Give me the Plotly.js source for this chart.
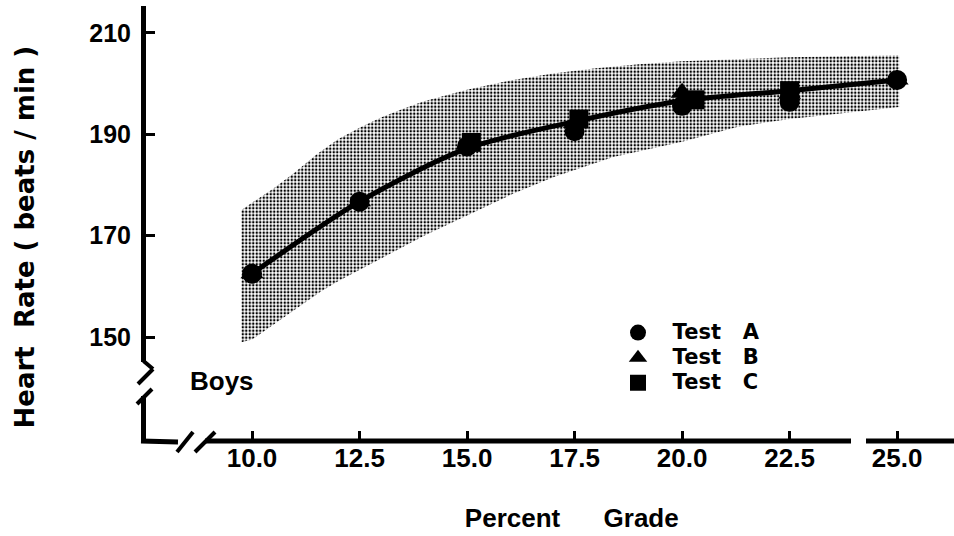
<!DOCTYPE html>
<html>
<head>
<meta charset="utf-8">
<script src="https://cdn.plot.ly/plotly-3.0.1.min.js"></script>
<style>html,body{margin:0;padding:0;background:#fff;}#chart{width:954px;height:536px;}</style>
</head>
<body>
<div id="chart"></div>
<script>
// ---- data ----
const grades = [10, 12.5, 15, 17.5, 20, 22.5, 25];
const meanHR = [162.5, 176.7, 187.2, 192.5, 196.6, 198.6, 200.7];

const testA_x = [10, 12.5, 15, 17.5, 20, 22.5, 25];
const testA_y = [162.5, 176.7, 187.6, 190.6, 195.6, 196.4, 200.7];
const testB_x = [10, 12.5, 15, 17.5, 20, 22.5, 25];
const testB_y = [162.6, 176.8, 188.0, 192.2, 198.2, 198.0, 200.8];
const testC_x = [15.1, 17.6, 20.3, 22.5];
const testC_y = [188.4, 193.0, 196.8, 198.6];

const bandUpperX = [9.75, 10, 10.5, 11, 11.5, 12, 12.5, 13, 13.5, 14, 15, 16, 17, 18, 19, 20, 22.5, 25.05];
const bandUpperY = [175, 176.5, 179.3, 182.5, 186, 189, 191.3, 193.3, 195, 196.5, 198.8, 200.6, 202, 203, 203.8, 204.4, 205.2, 205.6];
const bandLowerX = [9.75, 10, 11, 11.6, 12, 13, 14, 15, 16, 17, 18.4, 20, 21.3, 22.5, 25.05];
const bandLowerY = [149, 149.5, 155.5, 159, 161, 165.5, 170, 174, 178, 181.5, 185.5, 188.5, 191.5, 193, 195.4];

const xTickVals = [10, 12.5, 15, 17.5, 20, 22.5, 25];
const xTickText = ['10.0', '12.5', '15.0', '17.5', '20.0', '22.5', '25.0'];
const yTickVals = [150, 170, 190, 210];
const yTickText = ['150', '170', '190', '210'];

// ---- layout geometry (pixels) ----
const W = 954, H = 536;
const M = {l: 143, r: 4, t: 7, b: 96};
const PW = W - M.l - M.r, PH = H - M.t - M.b;
const px = x => (x - M.l) / PW;
const py = y => 1 - (y - M.t) / PH;
const WIDE = 'DejaVu Sans, Liberation Sans, Arial, sans-serif';
const NARROW = 'Liberation Sans, Arial, sans-serif';
const sp = n => '\u00a0'.repeat(n);
const big = s => '<span style="font-size:21px">' + s + '</span>';

const bandX = bandUpperX.concat(bandLowerX.slice().reverse());
const bandY = bandUpperY.concat(bandLowerY.slice().reverse());

const traces = [
  {x: bandX, y: bandY, type: 'scatter', mode: 'lines', fill: 'toself',
   line: {width: 0, color: 'rgba(0,0,0,0)'},
   fillcolor: 'rgba(0,0,0,0)',
   fillpattern: {shape: '.', fgcolor: '#000', bgcolor: '#fff', size: 3.5, solidity: 0.4},
   showlegend: false, hoverinfo: 'skip'},
  {x: grades, y: meanHR, type: 'scatter', mode: 'lines',
   line: {color: '#000', width: 5, shape: 'spline', smoothing: 0.8},
   showlegend: false},
  {x: testA_x, y: testA_y, type: 'scatter', mode: 'markers', name: big(sp(2) + 'Test' + sp(3) + 'A'),
   marker: {symbol: 'circle', size: 20, color: '#000'}},
  {x: testB_x, y: testB_y, type: 'scatter', mode: 'markers', name: big(sp(2) + 'Test' + sp(3) + 'B'),
   marker: {symbol: 'triangle-up', size: 20, color: '#000'}},
  {x: testC_x, y: testC_y, type: 'scatter', mode: 'markers', name: big(sp(2) + 'Test' + sp(3) + 'C'),
   marker: {symbol: 'square', size: 19, color: '#000'}}
];

const L = (x0, y0, x1, y1, w) => ({type: 'line', xref: 'paper', yref: 'paper',
  x0: px(x0), y0: py(y0), x1: px(x1), y1: py(y1), line: {color: '#000', width: w || 5}});

const shapes = [
  // y axis with break
  L(143.5, 6, 143.5, 362),
  L(143.5, 361, 153, 369, 4),
  L(153, 369, 138, 384, 4),
  L(152, 389, 137, 404, 4),
  L(143.5, 396, 143.5, 441),
  // x axis with break
  L(141, 441, 178, 442),
  L(177, 452, 193, 432, 4),
  L(195, 452, 215, 432, 4),
  L(205, 441, 851, 441),
  L(866, 441, 954, 441)
];

const layout = {
  width: W, height: H,
  margin: M,
  paper_bgcolor: '#fff', plot_bgcolor: '#fff',
  font: {family: WIDE, color: '#000', weight: 'bold'},
  xaxis: {
    range: [7.465, 26.23], showgrid: false, zeroline: false, showline: false,
    tickmode: 'array', tickvals: xTickVals, ticktext: xTickText,
    ticks: 'inside', ticklen: 9, tickwidth: 3, tickcolor: '#000',
    tickfont: {family: NARROW, size: 26, weight: 'bold'},
    title: {text: '\u200B' + sp(7) + 'Percent' + sp(6) + 'Grade', font: {family: NARROW, size: 26, weight: 'bold'}, standoff: 36},
    automargin: false
  },
  yaxis: {
    range: [129.7, 215.1], showgrid: false, zeroline: false, showline: false,
    tickmode: 'array', tickvals: yTickVals, ticktext: yTickText,
    ticks: 'inside', ticklen: 12, tickwidth: 3, tickcolor: '#000',
    tickfont: {family: NARROW, size: 25, weight: 'bold'},
    ticklabelstandoff: 11,
    title: {text: 'Heart' + sp(2) + 'Rate' + sp(1) + '(' + sp(1) + 'beats' + sp(1) + '/' + sp(1) + 'min' + sp(1) + ')' + sp(3) + '\u200B',
            font: {family: WIDE, size: 26, weight: 'bold'}, standoff: 47},
    automargin: false
  },
  legend: {
    x: px(618), y: py(315), xanchor: 'left', yanchor: 'top',
    bgcolor: 'rgba(0,0,0,0)', borderwidth: 0,
    font: {family: WIDE, size: 17, weight: 'bold'},
    itemsizing: 'trace', tracegroupgap: 0
  },
  annotations: [
    {xref: 'paper', yref: 'paper', x: px(188), y: py(381), xanchor: 'left', yanchor: 'middle',
     text: 'Boys', showarrow: false, font: {family: NARROW, size: 26, weight: 'bold'}}
  ],
  shapes: shapes,
  showlegend: true
};

Plotly.newPlot('chart', traces, layout, {displayModeBar: false, staticPlot: true});
</script>
</body>
</html>
